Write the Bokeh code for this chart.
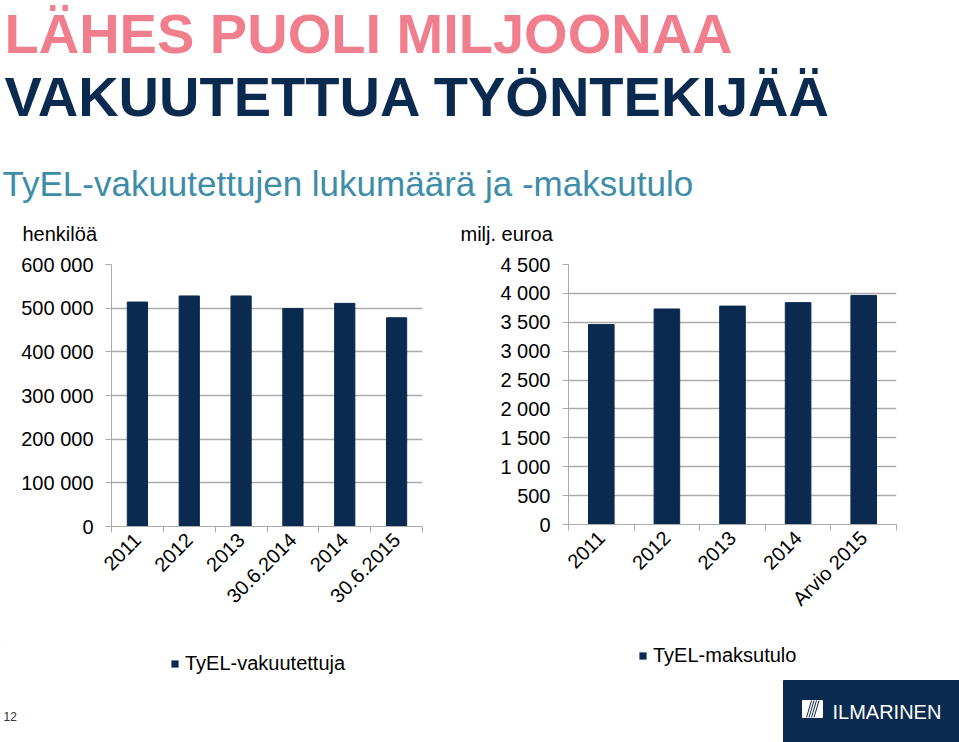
import math
from bokeh.plotting import figure
from bokeh.models import (Range1d, FixedTicker, LinearAxis, Legend, LegendItem, Grid)
from bokeh.layouts import column, row
from bokeh.core.properties import value
from bokeh.embed import file_html
from bokeh.resources import INLINE

# ---------------- data ----------------
left_categories = ["2011", "2012", "2013", "30.6.2014", "2014", "30.6.2015"]
left_values = [514000, 528000, 528000, 499000, 511000, 478000]
left_ticks = [0, 100000, 200000, 300000, 400000, 500000, 600000]
left_tick_labels = ["0", "100 000", "200 000", "300 000", "400 000", "500 000", "600 000"]

right_categories = ["2011", "2012", "2013", "2014", "Arvio 2015"]
right_values = [3460, 3730, 3780, 3840, 3965]
right_ticks = [0, 500, 1000, 1500, 2000, 2500, 3000, 3500, 4000, 4500]
right_tick_labels = ["0", "500", "1 000", "1 500", "2 000", "2 500", "3 000", "3 500", "4 000", "4 500"]

title_line1 = "LÄHES PUOLI MILJOONAA"
title_line2 = "VAKUUTETTUA TYÖNTEKIJÄÄ"
subtitle = "TyEL-vakuutettujen lukumäärä ja -maksutulo"
left_unit = "henkilöä"
right_unit = "milj. euroa"
left_legend = "TyEL-vakuutettuja"
right_legend = "TyEL-maksutulo"

FONT_NAME = "Liberation Sans"
FONT = value(FONT_NAME)
NAVY = "#0A2A4F"
PINK = "#F07E8D"
TEAL = "#3E8DA8"
GRID = "#ABABAB"
TICK_FS = "20px"


def blank(width, height):
    p = figure(width=width, height=height, x_range=Range1d(0, width), y_range=Range1d(height, 0),
               output_backend="svg", toolbar_location=None, x_axis_location=None,
               y_axis_location=None, min_border=0, outline_line_color=None)
    p.grid.visible = False
    return p


# ---------------- header ----------------
header = blank(959, 250)
header.text(x=[4], y=[33], text=[title_line1], text_font=FONT, text_font_style="bold",
            text_font_size="56px", text_color=PINK, text_baseline="middle")
header.text(x=[4], y=[96], text=[title_line2], text_font=FONT, text_font_style="bold",
            text_font_size="56px", text_color=NAVY, text_baseline="middle")
header.text(x=[2], y=[183], text=[subtitle], text_font=FONT, text_font_size="35px",
            text_color=TEAL, text_baseline="middle")
header.text(x=[22], y=[233], text=[left_unit], text_font=FONT, text_font_size="20px",
            text_color="#000000", text_baseline="middle")
header.text(x=[460], y=[233], text=[right_unit], text_font=FONT, text_font_size="20px",
            text_color="#000000", text_baseline="middle")


def make_chart(cats, vals, ticks, tick_labels, ymax, width, height,
               bl, br, bt, bb, fw, fh):
    n = len(cats)
    centers = [i + 0.5 for i in range(n)]
    bounds = list(range(n + 1))
    p = figure(x_range=Range1d(0, n), y_range=Range1d(0, ymax),
               width=width, height=height, frame_width=fw, frame_height=fh,
               min_border_left=bl, min_border_right=br, min_border_top=bt, min_border_bottom=bb,
               output_backend="svg", toolbar_location=None,
               x_axis_location=None, y_axis_location=None, outline_line_color=None)
    p.grid.visible = False

    yax = LinearAxis(ticker=FixedTicker(ticks=ticks),
                     major_label_overrides={t: l for t, l in zip(ticks, tick_labels)},
                     major_tick_out=6, major_tick_in=0, minor_tick_line_color=None,
                     axis_line_color=GRID, major_tick_line_color=GRID,
                     major_label_text_font=FONT_NAME, major_label_text_font_size=TICK_FS,
                     major_label_text_color="#000000", major_label_standoff=12)
    p.add_layout(yax, "left")
    p.add_layout(Grid(dimension=1, ticker=yax.ticker, grid_line_color=GRID, grid_line_width=1.5))

    xax = LinearAxis(ticker=FixedTicker(ticks=centers, minor_ticks=bounds),
                     major_label_overrides={c: lab for c, lab in zip(centers, cats)},
                     major_label_orientation=math.pi / 4,
                     major_tick_line_color=None, major_tick_out=6, major_tick_in=0,
                     minor_tick_line_color=GRID, minor_tick_out=6, minor_tick_in=0,
                     axis_line_color=GRID, major_label_text_font=FONT_NAME,
                     major_label_text_font_size=TICK_FS, major_label_text_color="#000000",
                     major_label_standoff=4)
    p.add_layout(xax, "below")

    p.vbar(x=centers, top=vals, width=0.39, color=NAVY)
    return p


left = make_chart(left_categories, left_values, left_ticks, left_tick_labels, 600000,
                  480, 390, 111, 58, 13, 115, 311, 262)
right = make_chart(right_categories, right_values, right_ticks, right_tick_labels, 4500,
                   479, 390, 88, 63, 14, 116, 328, 260)

# ---------------- footer (legends, page number, logo) ----------------
footer = blank(959, 102)
# legend key renderer: a zero-height bar far outside the visible area, only for its fill style
key = footer.vbar(x=[-1000], top=[-1000], bottom=[-1000], width=1, fill_color=NAVY,
                  line_color=None)
for label, loc in [(left_legend, (170, 67)), (right_legend, (638, 75))]:
    leg = Legend(items=[LegendItem(label=label, renderers=[key])], location=loc,
                 glyph_width=9, glyph_height=9, label_text_font=FONT_NAME,
                 label_text_font_size="20px", label_text_color="#000000",
                 border_line_color=None, background_fill_alpha=0,
                 padding=0, margin=0, label_standoff=6)
    footer.add_layout(leg)

footer.text(x=[3], y=[76], text=["12"], text_font=FONT, text_font_size="12px",
            text_color="#333333", text_baseline="middle")
footer.quad(left=[783], right=[959], top=[40], bottom=[102], color=NAVY)
footer.quad(left=[802], right=[822], top=[60], bottom=[77], color="white")
footer.segment(x0=[806, 808.5, 811, 813.5], y0=[77, 77, 77, 77],
               x1=[811, 813.5, 816, 818.5], y1=[60, 60, 60, 60], line_color=NAVY, line_width=1)
footer.text(x=[832], y=[71], text=["ILMARINEN"], text_font=FONT, text_font_size="20px",
            text_color="white", text_baseline="middle")

layout = column(header, row(left, right), footer)
open("out.html", "w").write(file_html(layout, INLINE))
